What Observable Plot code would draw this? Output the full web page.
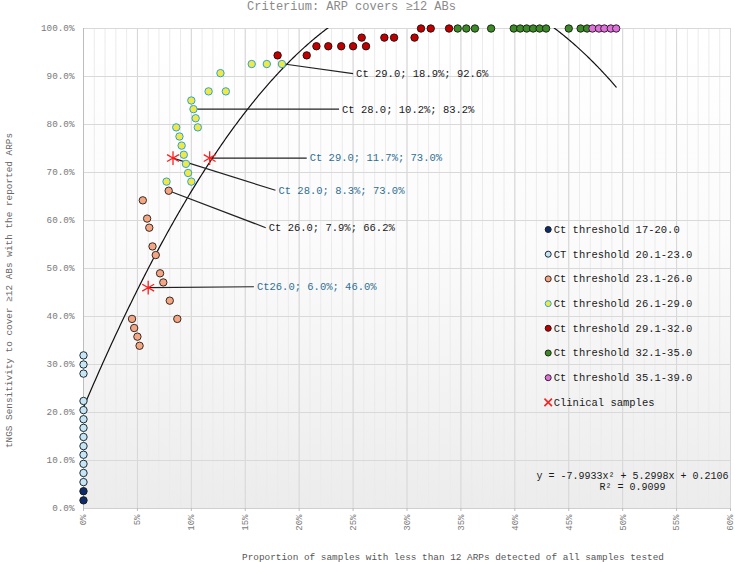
<!DOCTYPE html>
<html>
<head>
<meta charset="utf-8">
<script src="https://cdn.jsdelivr.net/npm/d3@7"></script>
<script src="https://cdn.jsdelivr.net/npm/@observablehq/plot@0.6"></script>
<style>
  html, body { margin: 0; padding: 0; background: #fff; }
  #chart { width: 735px; height: 562px; }
</style>
</head>
<body>
<div id="chart"></div>
<script>
// ---------- data (values in percent) ----------
const titleText = "Criterium: ARP covers ≥12 ABs";
const xLabel = "Proportion of samples with less than 12 ARPs detected of all samples tested";
const yLabel = "tNGS Sensitivity to cover ≥12 ABs with the reported ARPs";
const xTicks = [0, 5, 10, 15, 20, 25, 30, 35, 40, 45, 50, 55, 60];
const yTicks = [0, 10, 20, 30, 40, 50, 60, 70, 80, 90, 100];

const legendLabels = [
  "Ct threshold 17-20.0",
  "CT threshold 20.1-23.0",
  "Ct threshold 23.1-26.0",
  "Ct threshold 26.1-29.0",
  "Ct threshold 29.1-32.0",
  "Ct threshold 32.1-35.0",
  "Ct threshold 35.1-39.0"
];
const clinicalLabel = "Clinical samples";

const ct17x = [0, 0];
const ct17y = [1.7, 3.6];

const ct20x = [0, 0, 0, 0, 0, 0, 0, 0, 0, 0, 0, 0, 0];
const ct20y = [5.5, 7.4, 9.3, 11.2, 13.0, 14.9, 16.8, 18.6, 20.5, 22.4, 28.1, 30.0, 31.9];

const ct23x = [7.9, 5.5, 5.9, 6.1, 6.4, 6.7, 7.1, 7.4, 8.0, 8.7, 4.5, 4.7, 5.0, 5.2];
const ct23y = [66.2, 64.2, 60.4, 58.5, 54.6, 52.8, 49.0, 47.1, 43.3, 39.5, 39.5, 37.6, 35.8, 33.9];

const ct26x = [7.7, 10.0, 9.7, 9.5, 9.3, 9.1, 8.9, 8.6, 10.6, 10.4, 10.2, 10.0, 11.6, 13.2, 12.7, 15.6, 17.0, 18.4];
const ct26y = [68.1, 68.1, 69.9, 71.8, 73.7, 75.6, 77.5, 79.4, 79.4, 81.3, 83.2, 85.0, 86.9, 86.9, 90.7, 92.6, 92.6, 92.6];

const ct29x = [18.0, 20.7, 21.6, 22.7, 23.9, 25.0, 26.2, 25.8, 27.9, 28.8, 30.7, 31.3, 32.2, 33.9];
const ct29y = [94.4, 94.4, 96.3, 96.3, 96.3, 96.3, 96.3, 98.1, 98.1, 98.1, 98.1, 100, 100, 100];

const ct32x = [34.7, 35.5, 36.3, 37.8, 39.9, 40.5, 41.1, 41.7, 42.3, 42.9, 45.0, 46.1, 46.7];
const ct32y = [100, 100, 100, 100, 100, 100, 100, 100, 100, 100, 100, 100, 100];

const ct35x = [47.2, 47.8, 48.3, 48.9, 49.4];
const ct35y = [100, 100, 100, 100, 100];

const clinicalX = [8.3, 11.7, 6.0];
const clinicalY = [73.0, 73.0, 46.0];

// trendline coefficients shown on the chart (x and y as fractions)
const trendA = -7.9933, trendB = 5.2998, trendC = 0.2106;
const trendLabel = "y = -7.9933x² + 5.2998x + 0.2106";
const r2Label = "R² = 0.9099";

// annotations: text, anchor point, label point (data units)
const noteText = [
  "Ct 29.0; 18.9%; 92.6%",
  "Ct 28.0; 10.2%; 83.2%",
  "Ct 29.0; 11.7%; 73.0%",
  "Ct 28.0; 8.3%; 73.0%",
  "Ct 26.0; 7.9%; 66.2%",
  "Ct26.0; 6.0%; 46.0%"
];
const noteAnchorX = [18.6, 10.2, 11.7, 8.3, 7.9, 6.0];
const noteAnchorY = [92.6, 83.2, 73.0, 73.0, 66.2, 46.0];
const noteLabelX = [25.0, 23.7, 20.7, 17.8, 16.9, 15.8];
const noteLabelY = [90.6, 83.2, 73.0, 66.3, 58.5, 46.2];
const noteClinical = [false, false, true, true, false, true];

// ---------- build ----------
const zip = (xs, ys) => xs.map((x, i) => ({x, y: ys[i]}));
const series = [
  {rows: zip(ct17x, ct17y), fill: "#0d2c6c", stroke: "#1a1a1a"},
  {rows: zip(ct20x, ct20y), fill: "#c6e6f3", stroke: "#1d2b3a"},
  {rows: zip(ct23x, ct23y), fill: "#f3a683", stroke: "#3a2a22"},
  {rows: zip(ct26x, ct26y), fill: "#f2e843", stroke: "#2aa3da"},
  {rows: zip(ct29x, ct29y), fill: "#c00000", stroke: "#2a1010"},
  {rows: zip(ct32x, ct32y), fill: "#3e8a2a", stroke: "#1a2a12"},
  {rows: zip(ct35x, ct35y), fill: "#dc74d8", stroke: "#3a1a38"}
];
const clinical = zip(clinicalX, clinicalY);
const notes = noteText.map((t, i) => ({
  t, x1: noteAnchorX[i], y1: noteAnchorY[i], x2: noteLabelX[i], y2: noteLabelY[i], c: noteClinical[i]
}));
const maxX = d3.max(series.flatMap(s => s.rows), d => d.x);
const trend = d3.range(0, maxX + 0.001, 0.1).map(xp => {
  const f = xp / 100;
  return {x: xp, y: (trendA * f * f + trendB * f + trendC) * 100};
});

const font = "Liberation Mono, DejaVu Sans Mono, monospace";
const marks = [
  Plot.frame({fill: "url(#bgGrad)", stroke: null}),
  Plot.gridX({ticks: d3.range(0, 61, 1), stroke: "#ebebeb", strokeOpacity: 1}),
  Plot.gridX({ticks: xTicks, stroke: "#d6d6d6", strokeOpacity: 1}),
  Plot.gridY({ticks: yTicks, stroke: "#d9d9d9", strokeOpacity: 1}),
  Plot.ruleX([0], {stroke: "#bdbdbd"}),
  Plot.ruleY([0], {stroke: "#cfcfcf"}),
  Plot.axisX({ticks: xTicks, tickFormat: d => d + "%", tickRotate: -90, tickSize: 3, tickPadding: 3,
    fontSize: 9, fill: "#7a7a7a", stroke: "#bbb", label: null}),
  Plot.axisY({ticks: yTicks, tickFormat: d => d.toFixed(1) + "%", tickSize: 0, tickPadding: 9,
    fontSize: 9.3, fill: "#7a7a7a", label: null}),
  Plot.line(trend, {x: "x", y: "y", stroke: "#111", strokeWidth: 1.2, clip: true}),
  Plot.link(notes, {x1: "x1", y1: "y1", x2: "x2", y2: "y2", stroke: "#222", strokeWidth: 1.2}),
  Plot.text(notes, {x: "x2", y: "y2", text: "t", textAnchor: "start", dx: 3, fontSize: 10.5,
    fill: d => d.c ? "#2f6f93" : "#1a1a1a"}),
  ...series.map(s => Plot.dot(s.rows, {x: "x", y: "y", r: 3.7, fill: s.fill, stroke: s.stroke, strokeWidth: 1})),
  Plot.dot(clinical, {x: "x", y: "y", symbol: "asterisk", r: 6.5, stroke: "#ff1f1f", strokeWidth: 1.3}),
  Plot.text([titleText], {frameAnchor: "top-left", dx: 268, dy: -22, textAnchor: "middle", lineAnchor: "middle",
    fontSize: 12, fill: "#8a8a8a"}),
  Plot.text([yLabel], {frameAnchor: "left", dx: -75, dy: 22, rotate: -90, textAnchor: "middle", lineAnchor: "middle",
    fontSize: 9.4, fill: "#666"}),
  Plot.text([xLabel], {frameAnchor: "bottom", dx: 46, dy: 48, textAnchor: "middle", lineAnchor: "middle",
    fontSize: 9.4, fill: "#555"}),
  Plot.text([trendLabel], {frameAnchor: "bottom-right", dx: -98, dy: -33, textAnchor: "middle", lineAnchor: "middle",
    fontSize: 10, fill: "#1a1a1a"}),
  Plot.text([r2Label], {frameAnchor: "bottom-right", dx: -98, dy: -22, textAnchor: "middle", lineAnchor: "middle",
    fontSize: 10, fill: "#1a1a1a"})
];

// legend inside the plot
const legX = 464.7, legY0 = 201, legStep = 24.7;
series.forEach((s, i) => {
  marks.push(Plot.dot([0], {frameAnchor: "top-left", dx: legX, dy: legY0 + i * legStep, r: 3,
    fill: s.fill, stroke: s.stroke, strokeWidth: 1}));
  marks.push(Plot.text([legendLabels[i]], {frameAnchor: "top-left", dx: legX + 5.5, dy: legY0 + i * legStep,
    textAnchor: "start", lineAnchor: "middle", fontSize: 10.5, fill: "#1a1a1a"}));
});
marks.push(Plot.dot([0], {frameAnchor: "top-left", dx: legX, dy: legY0 + 7 * legStep, symbol: "times", r: 3.5,
  stroke: "#ff1f1f", strokeWidth: 1.6}));
marks.push(Plot.text([clinicalLabel], {frameAnchor: "top-left", dx: legX + 5.5, dy: legY0 + 7 * legStep,
  textAnchor: "start", lineAnchor: "middle", fontSize: 10.5, fill: "#1a1a1a"}));

const chart = Plot.plot({
  width: 735,
  height: 562,
  marginLeft: 83,
  marginRight: 5,
  marginTop: 28,
  marginBottom: 54,
  x: {domain: [0, 60], axis: null},
  y: {domain: [0, 100], axis: null},
  style: {fontFamily: font, background: "#fff", overflow: "visible"},
  marks
});
d3.select(chart).insert("defs", ":first-child").html(
  '<linearGradient id="bgGrad" x1="0" y1="0" x2="0" y2="1">' +
  '<stop offset="0" stop-color="#ffffff"/><stop offset="0.45" stop-color="#fbfbfb"/>' +
  '<stop offset="1" stop-color="#ececec"/></linearGradient>'
);
document.getElementById("chart").appendChild(chart);
</script>
</body>
</html>
